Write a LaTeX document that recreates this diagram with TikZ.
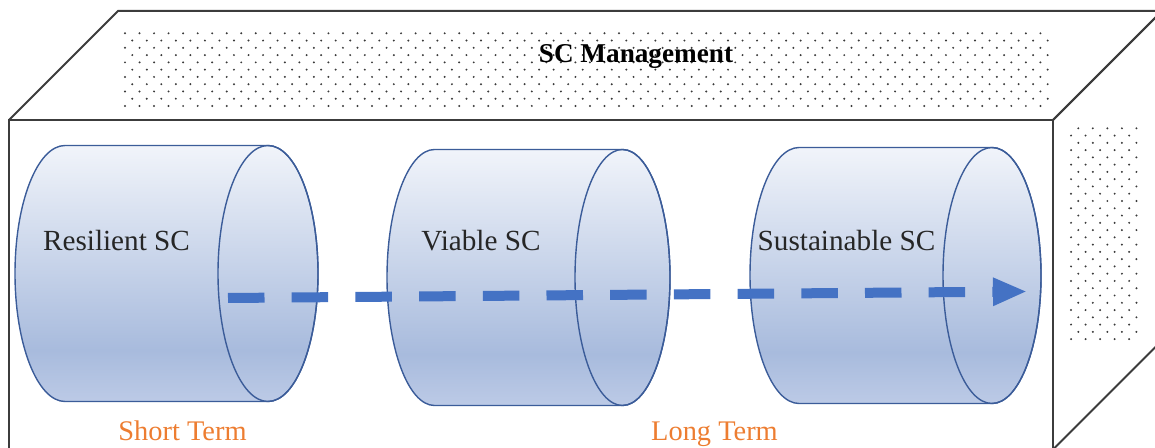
\documentclass[tikz,border=0pt]{standalone}
\usepackage{fontspec}
\setmainfont{Liberation Serif}
\usepackage{tikz}
\usetikzlibrary{arrows.meta}

\definecolor{boxline}{HTML}{3C3C3C}
\definecolor{dotgray}{HTML}{3A3A3A}
\definecolor{drumline}{HTML}{3B5C99}
\definecolor{drumlow}{HTML}{BCCAE6}
\definecolor{drumdark}{HTML}{A8BBDD}
\definecolor{drumtop}{HTML}{F1F4FA}
\definecolor{flowblue}{HTML}{4472C4}
\definecolor{termorange}{HTML}{ED7D31}

% light at the top, darkest a little above the bottom
\pgfdeclareverticalshading{drumshade}{100bp}{color(0bp)=(drumlow); color(25bp)=(drumlow);
  color(35bp)=(drumdark); color(75bp)=(drumtop); color(100bp)=(drumtop)}

\begin{document}
\begin{tikzpicture}[x=0.5pt,y=-0.5pt,
  box/.style={draw=boxline,line width=1pt,line join=miter},
  dot/.style={fill=dotgray},
  drum/.style={shading=drumshade,draw=drumline,line width=0.7pt},
  drum label/.style={anchor=base,text=black!85,font=\fontsize{14.6}{17}\selectfont},
  term/.style={anchor=base,text=termorange,font=\fontsize{14.2}{17}\selectfont},
  flow/.style={draw=flowblue,line width=5pt,dash pattern=on 18.25pt off 13.6pt,
    -{Triangle[length=17pt,width=13pt]}}]
\useasboundingbox (0,0) rectangle (1155,448);

% the box: front, top and right side
\draw[box] (9,120) rectangle (1053,449.5);
\draw[box] (9,120) -- (118,11) -- (1162,11) -- (1053,120);
\draw[box] (1053,120) -- (1162,11) -- (1162,340.5) -- (1053,449.5);

% dotted fill of the top and right faces
\foreach \r in {0,...,10}{
  \pgfmathsetmacro\xo{125+7.27*mod(\r,2)}
  \foreach \c in {0,...,63}
    \fill[dot] (\xo+14.53*\c,33.3+7.27*\r) circle[radius=1.1];
}
\foreach \r in {0,...,29}{
  \pgfmathsetmacro\xo{1078.3-7.27*mod(\r,2)}
  \foreach \c in {0,...,4}
    \fill[dot] (\xo+14.53*\c,128.3+7.27*\r) circle[radius=1.1];
}

\node[anchor=base,font=\fontsize{13.6}{16}\selectfont\bfseries] (title) at (636,63) {SC Management};

% the three drums
\foreach \nm/\xl/\xc/\cy/\rx/\txt in {res/65/268/273.5/50/Resilient SC,
    via/434.5/622.5/277.5/47.5/Viable SC, sus/799/992/275.5/49/Sustainable SC}{
  \shade[drum] (\xl,\cy-128) -- (\xc,\cy-128)
    arc[start angle=-90,end angle=90,x radius=\rx,y radius=128]
    -- (\xl,\cy+128) arc[start angle=90,end angle=270,x radius=\rx,y radius=128] -- cycle;
  \draw[drumline,line width=0.7pt] (\xc,\cy) ellipse[x radius=\rx,y radius=128];
  \coordinate (\nm-cap) at (\xc,\cy);
  \node[drum label] (\nm-label) at ({(\xl+\xc)/2-\rx},251) {\txt};
}

\coordinate (flow-start) at (228,298);
\coordinate (flow-end) at (1027,291.5);
\draw[flow] (flow-start) -- (flow-end);

\node[term] (short-term) at (182.5,440.5) {Short Term};
\node[term] (long-term) at (714.5,440.5) {Long Term};
\end{tikzpicture}
\end{document}
